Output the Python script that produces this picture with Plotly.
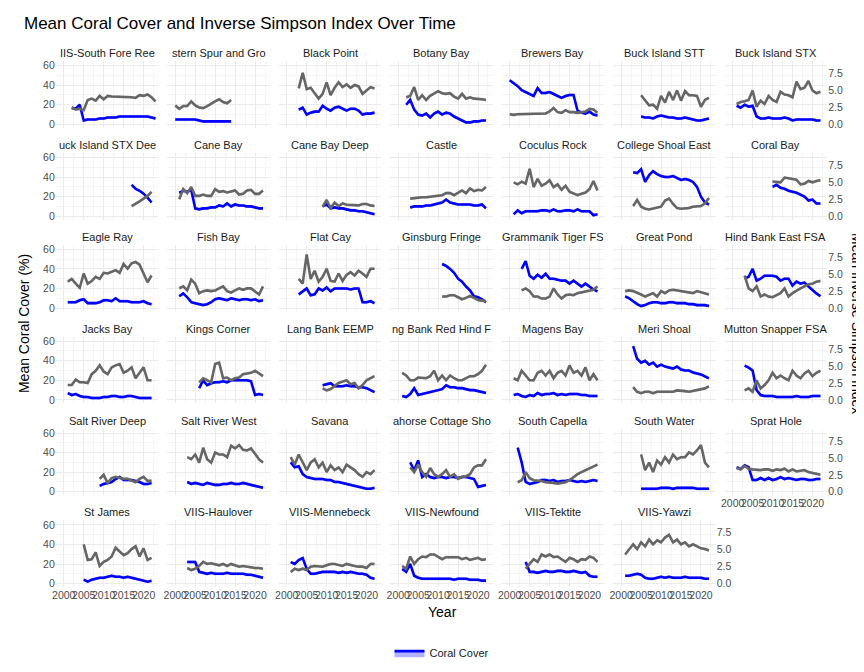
import plotly.graph_objects as go

# site order as in the facet grid (7 columns)
sites = [
    "VIIS-South Fore Reef", "Western Spur and Groove", "Black Point", "Botany Bay", "Brewers Bay",
    "Buck Island STT", "Buck Island STX", "Buck Island STX Deep", "Cane Bay", "Cane Bay Deep",
    "Castle", "Coculus Rock", "College Shoal East", "Coral Bay", "Eagle Ray", "Fish Bay", "Flat Cay",
    "Ginsburg Fringe", "Grammanik Tiger FSA", "Great Pond", "Hind Bank East FSA", "Jacks Bay",
    "Kings Corner", "Lang Bank EEMP", "Lang Bank Red Hind FSA", "Magens Bay", "Meri Shoal",
    "Mutton Snapper FSA", "Salt River Deep", "Salt River West", "Savana", "Seahorse Cottage Shoal",
    "South Capella", "South Water", "Sprat Hole", "St James", "VIIS-Haulover", "VIIS-Mennebeck",
    "VIIS-Newfound", "VIIS-Tektite", "VIIS-Yawzi",
]

# first survey year of each site (yearly surveys after that)
start_year = [2002, 2000, 2003, 2002, 2000, 2005, 2001, 2017, 2001, 2009, 2003, 2001, 2003, 2010,
              2001, 2001, 2003, 2011, 2003, 2001, 2003, 2001, 2006, 2009, 2001, 2001, 2003, 2003,
              2009, 2003, 2001, 2003, 2002, 2005, 2001, 2005, 2003, 2001, 2001, 2004, 2001]

# mean coral cover (%)
coral = [
    [17, 16, 20, 4, 5, 5, 5, 6, 6, 7, 7, 7, 8, 8, 8, 8, 8, 8, 8, 8, 7, 6],
    [5, 5, 5, 5, 5, 5, 4, 3, 3, 3, 3, 3, 3, 3, 3],
    [15, 17, 10, 12, 13, 13, 19, 16, 14, 17, 18, 16, 14, 16, 16, 14, 10, 11, 11, 12],
    [20, 25, 15, 10, 9, 11, 7, 11, 13, 10, 12, 11, 8, 6, 4, 2, 2, 3, 3, 4, 4],
    [45, 42, 39, 35, 33, 31, 29, 37, 32, 32, 33, 31, 29, 27, 29, 30, 30, 14, 12, 11, 13, 10, 9],
    [8, 7, 7, 6, 8, 9, 8, 7, 7, 6, 6, 7, 6, 5, 4, 4, 5, 6],
    [19, 17, 20, 18, 19, 8, 6, 6, 7, 6, 6, 6, 7, 6, 4, 5, 5, 5, 5, 5, 4, 4],
    [32, 28, 26, 23, 19, 14],
    [24, 26, 25, 27, 8, 7, 8, 8, 9, 9, 11, 10, 13, 10, 12, 11, 11, 10, 10, 9, 8, 8],
    [10, 12, 8, 9, 8, 8, 7, 6, 6, 5, 5, 4, 3, 2],
    [9, 10, 10, 10, 11, 11, 12, 13, 14, 17, 14, 13, 12, 12, 12, 12, 11, 11, 12, 8],
    [2, 6, 3, 5, 5, 5, 5, 6, 6, 5, 7, 5, 5, 6, 6, 5, 7, 5, 5, 5, 1, 2],
    [45, 44, 48, 35, 42, 46, 43, 41, 40, 40, 41, 39, 37, 38, 37, 35, 30, 20, 14, 12],
    [30, 32, 29, 28, 26, 25, 24, 22, 20, 16, 17, 13, 13],
    [6, 6, 6, 8, 9, 5, 5, 5, 6, 8, 8, 7, 10, 7, 7, 7, 6, 6, 6, 7, 5, 4],
    [12, 15, 11, 6, 5, 4, 3, 4, 6, 9, 10, 9, 8, 10, 9, 8, 9, 9, 8, 9, 7, 8],
    [14, 17, 20, 13, 14, 20, 18, 21, 17, 20, 20, 20, 20, 19, 20, 20, 6, 6, 7, 5],
    [45, 43, 40, 36, 30, 27, 22, 18, 12, 11, 9, 6],
    [40, 48, 33, 30, 34, 31, 35, 30, 30, 29, 28, 28, 25, 28, 25, 22, 25, 22, 19, 17],
    [12, 10, 7, 4, 2, 3, 5, 6, 6, 5, 5, 6, 6, 5, 5, 5, 4, 4, 3, 3, 3, 2],
    [30, 32, 40, 28, 30, 33, 33, 33, 32, 28, 30, 30, 23, 27, 25, 26, 22, 18, 15, 12],
    [7, 5, 6, 4, 3, 3, 2, 2, 2, 3, 3, 4, 4, 3, 3, 4, 4, 3, 2, 2, 2, 2],
    [12, 20, 15, 17, 18, 18, 19, 18, 20, 20, 20, 20, 20, 19, 5, 6, 5],
    [15, 16, 17, 14, 14, 14, 15, 14, 14, 13, 13, 12, 10, 8],
    [4, 3, 6, 12, 5, 6, 7, 8, 9, 10, 11, 15, 13, 13, 12, 12, 11, 10, 10, 9, 8, 7],
    [5, 6, 4, 3, 5, 4, 7, 5, 6, 6, 7, 5, 6, 5, 6, 6, 6, 5, 5, 4, 4, 4],
    [55, 42, 38, 40, 36, 38, 34, 36, 34, 33, 32, 34, 31, 30, 30, 28, 27, 26, 24, 22],
    [35, 33, 30, 10, 5, 4, 4, 4, 3, 3, 3, 3, 3, 4, 3, 3, 3, 4, 4, 4],
    [6, 8, 9, 10, 13, 15, 12, 12, 12, 11, 10, 8, 8, 9],
    [10, 8, 9, 8, 7, 9, 8, 7, 7, 8, 8, 9, 8, 8, 9, 8, 7, 6, 5, 4],
    [30, 25, 26, 18, 15, 14, 13, 13, 13, 12, 12, 10, 10, 9, 8, 7, 6, 5, 4, 3, 3, 4],
    [30, 22, 32, 15, 18, 15, 14, 15, 15, 14, 15, 15, 14, 15, 15, 14, 13, 5, 6, 7],
    [45, 30, 10, 8, 9, 10, 12, 12, 11, 12, 10, 11, 11, 12, 11, 10, 11, 10, 11, 12, 11],
    [3, 3, 3, 3, 3, 4, 4, 4, 3, 4, 4, 4, 4, 4, 3, 3, 3, 3],
    [25, 23, 27, 25, 12, 12, 14, 12, 14, 12, 13, 15, 13, 14, 13, 12, 13, 13, 12, 12, 13, 13],
    [4, 2, 4, 5, 6, 6, 7, 8, 7, 7, 6, 7, 6, 5, 4, 3, 2, 3],
    [22, 22, 22, 12, 11, 10, 11, 10, 10, 10, 11, 10, 10, 10, 10, 9, 9, 8, 7, 6],
    [22, 20, 24, 26, 15, 10, 10, 11, 12, 12, 12, 12, 11, 12, 11, 12, 11, 10, 10, 9, 6, 5],
    [15, 12, 20, 8, 6, 5, 5, 5, 5, 5, 5, 5, 5, 4, 5, 5, 5, 4, 4, 4, 3, 3],
    [22, 12, 12, 11, 12, 13, 12, 12, 13, 13, 12, 12, 13, 12, 11, 12, 8, 7, 7],
    [8, 8, 9, 10, 9, 6, 5, 5, 6, 7, 6, 7, 6, 6, 6, 7, 6, 6, 6, 6, 5, 5],
]

# mean inverse Simpson index
simpson = [
    [2.4, 2.2, 2.3, 2.1, 3.6, 3.8, 3.5, 4.2, 3.7, 4.2, 4.1, 4.1, 4.1, 4.0, 4.0, 4.0, 3.9, 4.3, 4.2, 4.4, 4.0, 3.4],
    [2.8, 2.3, 2.7, 2.7, 3.4, 2.8, 2.5, 2.4, 2.7, 3.1, 3.4, 3.7, 3.3, 3.1, 3.6],
    [5.3, 7.6, 5.2, 5.4, 4.6, 3.8, 4.5, 6.2, 4.3, 5.4, 6.2, 5.5, 5.9, 5.4, 5.8, 5.6, 4.5, 5.0, 5.5, 5.3],
    [4.0, 4.2, 5.5, 3.6, 4.3, 3.6, 4.2, 4.5, 4.9, 4.6, 4.5, 4.6, 4.1, 3.8, 4.5, 3.8, 4.0, 3.8, 3.8, 3.7, 3.6],
    [1.5, 1.4, 1.5, 1.5, 1.5, 1.5, 1.5, 1.5, 1.6, 1.6, 1.9, 2.4, 1.8, 1.7, 2.1, 1.8, 1.8, 1.7, 1.8, 1.9, 2.3, 2.2, 1.7],
    [4.3, 3.6, 2.8, 2.9, 2.3, 4.2, 3.2, 4.8, 3.6, 5.0, 3.5, 4.9, 4.3, 4.3, 4.2, 2.6, 3.6, 3.9],
    [3.0, 3.3, 3.4, 3.6, 5.0, 2.6, 3.5, 3.0, 4.2, 3.6, 3.3, 4.8, 4.4, 4.3, 4.0, 6.3, 5.2, 5.4, 6.4, 5.0, 4.6, 4.8],
    [1.5, 1.8, 2.2, 2.6, 3.0, 3.6],
    [2.5, 4.0, 3.4, 4.3, 3.0, 3.0, 3.2, 3.0, 3.0, 4.0, 3.6, 3.7, 3.5, 3.6, 3.8, 3.2, 3.3, 3.8, 3.9, 3.3, 3.3, 3.8],
    [1.4, 2.4, 1.2, 2.0, 1.5, 1.9, 1.7, 1.7, 1.6, 1.6, 1.8, 1.8, 1.6, 1.5],
    [2.6, 2.7, 2.7, 2.8, 2.8, 2.9, 2.9, 3.0, 3.1, 3.4, 3.4, 3.1, 3.5, 3.8, 3.4, 4.1, 3.7, 3.9, 3.8, 4.3],
    [5.0, 4.7, 5.1, 4.8, 7.0, 4.3, 5.5, 4.5, 4.8, 5.3, 4.3, 4.7, 3.9, 4.5, 3.6, 3.4, 3.1, 3.3, 3.5, 4.0, 5.2, 3.8],
    [1.5, 2.4, 1.4, 1.1, 1.0, 1.1, 1.3, 1.4, 2.3, 2.6, 1.8, 1.2, 1.1, 1.1, 1.2, 1.4, 1.5, 1.5, 1.9, 2.7],
    [5.1, 5.1, 5.0, 5.7, 5.6, 5.6, 5.4, 4.7, 4.8, 5.2, 5.0, 5.2, 5.3],
    [3.9, 4.3, 3.6, 3.0, 5.1, 3.6, 4.0, 4.6, 4.3, 5.2, 5.1, 5.3, 5.6, 5.2, 6.5, 5.8, 6.6, 6.8, 6.4, 5.1, 3.8, 4.8],
    [2.9, 3.2, 2.6, 4.2, 3.6, 2.2, 2.5, 2.6, 2.5, 2.6, 2.9, 3.2, 2.5, 2.3, 2.6, 2.9, 2.7, 2.9, 2.9, 2.5, 2.0, 3.2],
    [4.3, 3.6, 7.9, 4.3, 5.5, 3.9, 4.6, 5.8, 4.0, 3.9, 5.1, 4.0, 4.9, 5.3, 4.8, 5.5, 5.1, 4.6, 5.8, 5.8],
    [1.7, 1.7, 1.9, 1.9, 1.6, 1.3, 1.5, 1.8, 1.5, 1.2, 1.1, 1.0],
    [2.6, 2.9, 2.5, 1.7, 1.7, 1.4, 1.4, 1.7, 2.9, 2.0, 1.4, 1.9, 2.0, 1.9, 2.2, 2.3, 2.5, 2.6, 2.7, 3.2],
    [2.5, 2.6, 2.5, 2.3, 2.0, 1.7, 1.9, 2.2, 1.7, 2.5, 2.2, 2.6, 2.7, 2.6, 2.5, 2.3, 2.2, 2.2, 2.5, 2.3, 2.2, 2.0],
    [4.8, 2.9, 2.5, 3.2, 1.7, 2.0, 1.7, 1.6, 1.9, 2.2, 2.9, 1.7, 2.2, 2.6, 2.9, 3.2, 3.5, 3.6, 3.9, 4.0],
    [2.2, 2.2, 3.0, 2.6, 2.6, 2.5, 3.8, 4.3, 5.1, 4.2, 3.8, 4.8, 5.1, 5.3, 4.0, 4.3, 4.8, 3.2, 4.0, 4.8, 2.9, 2.9],
    [2.6, 3.2, 2.9, 2.6, 5.3, 5.5, 3.2, 3.3, 2.9, 3.2, 3.3, 3.8, 3.9, 4.0, 4.3, 3.9, 3.5],
    [1.7, 1.4, 1.6, 2.0, 2.5, 2.7, 2.9, 2.3, 2.5, 1.7, 2.2, 2.9, 3.2, 3.5],
    [4.0, 3.6, 2.9, 2.9, 3.3, 3.2, 3.2, 3.5, 4.3, 2.9, 3.6, 2.9, 3.6, 3.2, 2.9, 2.9, 3.2, 3.5, 3.5, 3.8, 4.3, 5.2],
    [3.2, 2.9, 4.3, 3.6, 2.9, 2.9, 4.0, 4.3, 3.6, 4.3, 3.2, 4.0, 4.3, 3.6, 5.1, 4.0, 4.3, 3.6, 4.8, 2.9, 3.8, 2.9],
    [1.9, 1.2, 1.0, 1.2, 1.2, 1.0, 1.2, 1.2, 1.3, 1.3, 1.2, 1.4, 1.4, 1.3, 1.2, 1.3, 1.4, 1.6, 1.7, 2.0],
    [1.4, 1.7, 1.2, 2.9, 1.7, 2.2, 2.9, 4.0, 3.2, 3.6, 3.2, 2.9, 4.3, 3.6, 3.2, 3.9, 4.3, 3.5, 4.0, 4.3],
    [1.9, 2.5, 1.3, 2.0, 2.2, 2.0, 1.9, 1.9, 1.7, 1.4, 1.9, 2.2, 1.6, 1.6],
    [5.1, 4.8, 5.5, 4.3, 6.5, 4.8, 4.3, 5.8, 5.5, 5.5, 5.1, 6.8, 6.4, 6.9, 6.2, 6.1, 6.4, 5.5, 4.8, 4.3],
    [5.1, 4.0, 5.5, 4.3, 3.2, 4.3, 4.8, 3.6, 4.3, 2.9, 3.9, 3.2, 3.6, 2.9, 4.0, 3.6, 3.2, 2.6, 2.2, 2.9, 2.6, 3.2],
    [3.6, 2.9, 4.0, 2.9, 2.2, 3.5, 2.6, 2.2, 2.6, 3.2, 2.2, 2.6, 1.9, 2.2, 2.3, 2.6, 3.6, 3.9, 3.9, 4.8],
    [1.4, 1.7, 2.9, 2.0, 1.7, 1.7, 1.6, 1.4, 1.4, 1.3, 1.2, 1.3, 1.4, 1.7, 2.2, 2.6, 2.9, 3.2, 3.5, 3.8, 4.0],
    [5.5, 3.2, 4.3, 2.9, 4.6, 4.0, 5.1, 4.3, 5.5, 4.8, 5.1, 5.1, 5.8, 5.5, 6.1, 6.9, 4.3, 3.6],
    [3.5, 3.3, 3.8, 3.4, 3.3, 3.2, 3.2, 3.3, 3.3, 3.1, 3.3, 3.2, 3.4, 3.0, 3.3, 3.0, 3.1, 3.2, 2.9, 2.8, 2.6, 2.5],
    [5.8, 3.5, 3.6, 4.6, 2.6, 3.2, 3.5, 4.0, 5.3, 4.8, 4.2, 4.5, 5.1, 5.5, 4.0, 5.2, 3.5, 3.8],
    [2.3, 2.0, 2.2, 2.6, 3.2, 2.9, 3.0, 2.9, 2.7, 2.9, 2.6, 2.9, 2.7, 2.5, 2.6, 2.5, 2.3, 2.3, 2.3, 2.2],
    [1.7, 2.2, 2.0, 2.2, 2.0, 2.5, 2.6, 2.6, 2.5, 2.7, 2.9, 2.9, 2.7, 2.6, 2.9, 2.7, 2.6, 2.5, 2.5, 2.3, 2.9, 2.9],
    [2.6, 2.2, 4.0, 2.9, 3.6, 4.0, 3.9, 4.3, 4.3, 4.0, 3.6, 3.9, 3.9, 3.8, 3.9, 3.6, 3.8, 3.5, 3.6, 3.8, 3.5, 3.6],
    [2.2, 2.9, 3.6, 3.2, 4.3, 4.0, 4.3, 3.9, 4.0, 3.6, 3.2, 3.8, 3.6, 3.2, 3.6, 3.5, 4.0, 3.8, 3.2],
    [4.3, 5.1, 5.8, 5.1, 6.1, 5.5, 6.5, 5.8, 6.4, 6.1, 6.8, 7.2, 6.1, 6.5, 5.8, 6.1, 5.5, 5.8, 5.5, 5.2, 5.1, 4.9],
]

# standard errors used for the ribbons
coral_se = 1.5
simpson_se = 0.2

y_ticks = [0, 20, 40, 60]
y2_ticks = [0, 2.5, 5, 7.5]
y2_labels = ["0.0", "2.5", "5.0", "7.5"]
x_ticks = [2000, 2005, 2010, 2015, 2020]

W, H = 864, 672
NCOL = 7
BLUE = "#0000ff"
GREY = "#666666"
FONT = "Liberation Sans, Arial, sans-serif"
TICK = dict(size=10.5, color="#4d4d4d", family=FONT)


def strip_label(name, n=18):
    if len(name) <= n:
        return name
    cut = len(name) - n
    a = cut // 2
    return name[a:len(name) - (cut - a)]


fig = go.Figure()
layout = {}
annotations = []
n = len(sites)

for i, site in enumerate(sites):
    r, c = divmod(i, NCOL)
    years = list(range(start_year[i], start_year[i] + len(coral[i])))
    xs = "" if i == 0 else str(i + 1)
    y1 = "" if i == 0 else str(2 * i + 1)
    y2 = str(2 * i + 2)

    x0, x1 = 44 + 112 * c, 147 + 112 * c
    top, bot = 51.5 + 92.4 * r, 118.5 + 92.4 * r
    dom_x = [x0 / W, x1 / W]
    dom_y = [1 - bot / H, 1 - top / H]

    last_in_row = (c == NCOL - 1) or (i == n - 1)
    bottom_of_col = (i + NCOL >= n)

    layout["xaxis" + xs] = dict(
        domain=dom_x, anchor="y" + y1, range=[1998, 2023.7],
        tickvals=x_ticks, showticklabels=bottom_of_col, tickfont=TICK, tickangle=0,
        showgrid=True, gridcolor="#ebebeb", gridwidth=1,
        minor=dict(dtick=2.5, tick0=2000, showgrid=True, gridcolor="#f5f5f5"),
        zeroline=False, showline=False, ticks="",
    )
    layout["yaxis" + y1] = dict(
        domain=dom_y, anchor="x" + xs, range=[-3.5, 64.5],
        tickvals=y_ticks, showticklabels=(c == 0), tickfont=TICK,
        showgrid=True, gridcolor="#ebebeb", gridwidth=1,
        minor=dict(dtick=10, tick0=0, showgrid=True, gridcolor="#f5f5f5"),
        zeroline=False, ticks="",
    )
    layout["yaxis" + y2] = dict(
        overlaying="y" + y1, anchor="x" + xs, side="right", range=[-3.5 / 6.92, 64.5 / 6.92],
        tickvals=y2_ticks, ticktext=y2_labels, showticklabels=last_in_row, tickfont=TICK,
        showgrid=False, zeroline=False, ticks="",
    )

    xa = "x" + xs
    # coral ribbon + line
    fig.add_trace(go.Scatter(x=years, y=[v + coral_se for v in coral[i]], xaxis=xa, yaxis="y" + y1,
                             mode="lines", line=dict(width=0), showlegend=False, hoverinfo="skip"))
    fig.add_trace(go.Scatter(x=years, y=[max(v - coral_se, 0) for v in coral[i]], xaxis=xa, yaxis="y" + y1,
                             mode="lines", line=dict(width=0), fill="tonexty",
                             fillcolor="rgba(0,0,255,0.28)", showlegend=False, hoverinfo="skip"))
    fig.add_trace(go.Scatter(x=years, y=coral[i], xaxis=xa, yaxis="y" + y1, mode="lines",
                             line=dict(color=BLUE, width=2.6), showlegend=False, name="Coral Cover"))
    # simpson ribbon + line
    fig.add_trace(go.Scatter(x=years, y=[v + simpson_se for v in simpson[i]], xaxis=xa, yaxis="y" + y2,
                             mode="lines", line=dict(width=0), showlegend=False, hoverinfo="skip"))
    fig.add_trace(go.Scatter(x=years, y=[max(v - simpson_se, 0) for v in simpson[i]], xaxis=xa, yaxis="y" + y2,
                             mode="lines", line=dict(width=0), fill="tonexty",
                             fillcolor="rgba(128,128,128,0.3)", showlegend=False, hoverinfo="skip"))
    fig.add_trace(go.Scatter(x=years, y=simpson[i], xaxis=xa, yaxis="y" + y2, mode="lines",
                             line=dict(color=GREY, width=2.6), showlegend=False, name="Inverse Simpson"))

    annotations.append(dict(text=strip_label(site), x=(x0 + x1) / 2 / W, y=1 - (top - 8) / H,
                            xref="paper", yref="paper", xanchor="center", yanchor="middle",
                            showarrow=False, font=dict(size=11, color="#1a1a1a", family=FONT)))

# legend entry
fig.add_trace(go.Scatter(x=[None], y=[None], mode="lines", fill="toself", fillcolor="rgba(0,0,255,0.3)",
                         line=dict(color=BLUE, width=2.6), name="Coral Cover", showlegend=True))

annotations += [
    dict(text="Year", x=432 / W, y=1 - 606 / H, xref="paper", yref="paper", showarrow=False,
         xanchor="center", yanchor="middle", font=dict(size=14, color="black", family=FONT)),
    dict(text="Mean Coral Cover (%)", x=12 / W, y=1 - 315 / H, xref="paper", yref="paper",
         xanchor="center", yanchor="middle",
         showarrow=False, textangle=-90, font=dict(size=14, color="black", family=FONT)),
    dict(text="Mean Inverse Simpson Index", x=849 / W, y=1 - 315 / H, xref="paper", yref="paper",
         xanchor="center", yanchor="middle",
         showarrow=False, textangle=90, font=dict(size=14, color="black", family=FONT)),
]

fig.update_layout(
    width=W, height=H, margin=dict(l=0, r=0, t=0, b=0),
    plot_bgcolor="white", paper_bgcolor="white",
    title=dict(text="Mean Coral Cover and Inverse Simpson Index Over Time", x=16 / W, xanchor="left",
               y=1 - 15 / H, yanchor="middle", font=dict(size=17, color="black", family=FONT)),
    legend=dict(orientation="h", x=0.5, xanchor="center", y=1 - 647 / H, yanchor="middle",
                font=dict(size=11, family=FONT, color="#1a1a1a")),
    annotations=annotations,
    **layout,
)

fig.write_html("out.html")
